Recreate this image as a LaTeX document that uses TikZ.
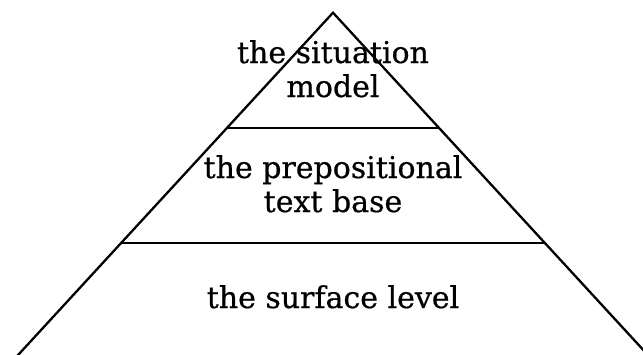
\documentclass[tikz,border=0pt]{standalone}
\usepackage{fontspec}
\setmainfont{DejaVu Serif}
\newfontfamily\pyrfont{DejaVu Serif}[FakeBold=0.6]
\usetikzlibrary{calc}
\begin{document}
\begin{tikzpicture}[x=1pt,y=-1pt,
  edge/.style={line width=2.3pt},
  label/.style={align=center,font=\pyrfont\fontsize{30}{34}\selectfont,inner sep=0pt,anchor=base}]
\useasboundingbox (0,0) rectangle (643,354);
\clip (0,0) rectangle (643,354);
\coordinate (apex) at (333,12.7);
\coordinate (bl) at (19,354);
\coordinate (br) at (647,354);
\draw[edge] ($(apex)!1.05!(bl)$) -- (apex) -- ($(apex)!1.05!(br)$);
\coordinate (l1) at ($(apex)!0.338!(bl)$);
\coordinate (r1) at ($(apex)!0.338!(br)$);
\coordinate (l2) at ($(apex)!0.675!(bl)$);
\coordinate (r2) at ($(apex)!0.675!(br)$);
\draw[edge] (l1) -- (r1);
\draw[edge] (l2) -- (r2);
\node[label] (top) at (333,97) {the situation\\model};
\node[label] (mid) at (333,212) {the prepositional\\text base};
\node[label] (bot) at (333,308) {the surface level};
\end{tikzpicture}
\end{document}
